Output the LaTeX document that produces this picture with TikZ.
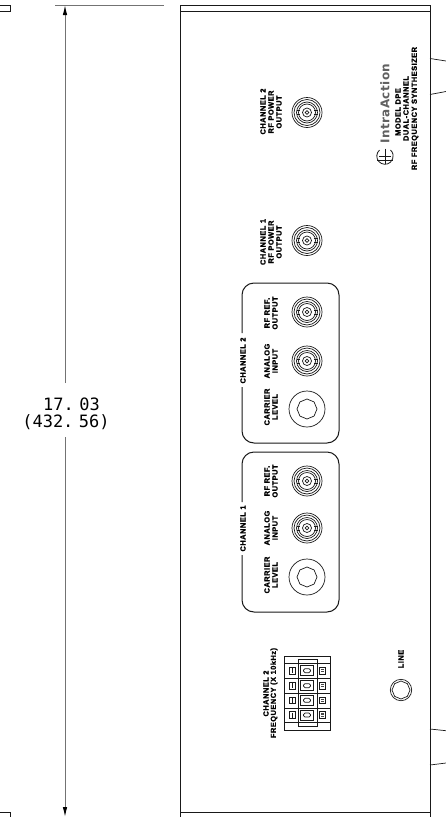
\documentclass[tikz,border=0pt]{standalone}
\usepackage{fontspec}
\setmainfont{Liberation Sans}
\newfontfamily\dimfont{DejaVu Sans Mono}
\newfontfamily\logofont[LetterSpace=3]{DejaVu Sans}
\newfontfamily\lblfont[LetterSpace=7,FakeBold=1.5]{Liberation Sans Bold}
\usetikzlibrary{arrows.meta,shapes.geometric}
\definecolor{ink}{gray}{0.1}
\tikzset{
  panel/.style={draw=ink,line width=1pt},
  thin line/.style={draw=ink,line width=0.7pt},
  dimline/.style={draw=black!55,line width=1pt},
  lbl/.style={rotate=90,inner sep=0,font=\lblfont\fontsize{7.4}{7.4}\selectfont,text=black},
  dimtxt/.style={inner sep=0,font=\dimfont\fontsize{17}{17}\selectfont,text=black},
  logotxt/.style={rotate=90,inner sep=0,font=\logofont\bfseries\fontsize{12}{12}\selectfont,text=black!62},
  hole/.style={regular polygon,regular polygon sides=#1,draw=ink,line width=0.7pt,inner sep=0},
  bnc/.pic={
    \draw[thin line] (0,0) circle (15);
    \draw[thin line] (0,0) circle (13);
    \draw[thin line] (0,0) circle (10.5);
    \draw[thin line] (0,0) circle (8.5);
    \draw[thin line] (0,0) circle (4.5);
    \draw[thin line] (0,0) circle (1.8);
    \draw[thin line] (-10.5,-2) -- (-7,-2) (-10.5,2) -- (-7,2);
    \draw[thin line] (10.5,-2) -- (7,-2) (10.5,2) -- (7,2);
  },
  knob/.pic={
    \draw[thin line] (0,0) circle (18);
    \node[hole=8,minimum size=20pt,rotate=22.5] (-oct) at (0,0) {};
  },
  cell/.pic={
    \draw[thin line,line width=0.9pt] (-18,-3.3) rectangle (-12,3.3);
    \draw[thin line] (-15,-2.5) -- (-15,2.5);
    \draw[thin line,line width=1pt] (-6.5,-5) rectangle (6.5,5);
    \draw[thin line,rounded corners=1.5pt] (-3.5,-2) rectangle (3.5,2);
    \draw[thin line,line width=0.9pt] (12,-3.3) rectangle (18,3.3);
    \fill[ink!80] (13.5,-1.7) rectangle (16.5,-0.5);
    \fill[ink!80] (13.5,0.5) rectangle (16.5,1.7);
  }
}
\begin{document}
\begin{tikzpicture}[x=1pt,y=-1pt]
\useasboundingbox (0,0) rectangle (446,817);
% left fragments
\draw[panel] (0,5) -- (10,5) -- (10,11) -- (0,11);
\draw[panel] (0,812.7) -- (10,812.7) -- (10,817);
% dimension
\coordinate (dtop) at (65,5);
\coordinate (dbot) at (65,817);
\coordinate (ea) at (55,5);
\coordinate (eb) at (164,5);
\coordinate (ga) at (65,383);
\coordinate (gb) at (65,437);
\draw[dimline] (ea) -- (eb);
\draw[dimline,-{Latex[length=10pt,width=4.5pt,black]}] (ga) -- (dtop);
\draw[dimline,-{Latex[length=10pt,width=4.5pt,black]}] (gb) -- (dbot);
\node[dimtxt] (d1) at (71.5,404.5) {17.\hspace{5.5pt}03};
\node[dimtxt] (d2) at (66,422.5) {(432.\hspace{5.5pt}56)};
% panel
\draw[panel] (180,817) -- (180,5) -- (430,5) -- (430,817);
\draw[panel] (180,11) -- (430,11);
\draw[panel] (180,812.7) -- (430,812.7);
\draw[thin line] (430,58.5) -- (446,61);
\draw[thin line] (430,94.5) -- (446,91.5);
\draw[thin line] (430,729) -- (446,730.7);
\draw[thin line] (430,765) -- (446,763);
% channel boxes
\draw[panel,rounded corners=12pt] (242,333) -- (242,283) -- (339,283) -- (339,443) -- (242,443) -- (242,387);
\draw[panel,rounded corners=12pt] (242,502) -- (242,452) -- (339,452) -- (339,612) -- (242,612) -- (242,555);
% connectors
\pic at (307,112.5) {bnc};
\pic at (307,240.5) {bnc};
\pic at (307,312) {bnc};
\pic at (307,361) {bnc};
\pic at (307,481) {bnc};
\pic at (307,528) {bnc};
\pic (ka) at (307,409) {knob};
\pic (kb) at (307,577) {knob};
% line switch
\draw[thin line] (401,690) circle (10.7);
\node[hole=8,minimum size=18pt,rotate=22.5] (linehole) at (401,690) {};
% terminal block
\draw[panel] (284,656) rectangle (330,730);
\foreach \yy in {663,678,693,708,722.7} \draw[thin line] (284,\yy) -- (330,\yy);
\draw[thin line,line width=0.9pt] (298,659.5) rectangle (317,726.5);
\foreach \yy in {670.7,685.7,700.3,715} \pic at (307,\yy) {cell};
% logo
\draw[thin line,line width=0.8pt] (379.5,150) arc[start angle=228,end angle=-48,radius=8.2];
\draw[thin line] (385,148.5) -- (385,163.5);
\draw[thin line] (379,156) -- (391,156);
\draw[thin line] (377,160.3) -- (393,160.3);
\node[logotxt] (brand) at (385,103.5) {IntraAction};
\node[lbl] (m1) at (398,112) {MODEL DPE};
\node[lbl] (m2) at (406,108.5) {DUAL-CHANNEL};
\node[lbl] (m3) at (415,108.5) {RF FREQUENCY SYNTHESIZER};
% labels
\node[lbl] (o1) at (263,111.5) {CHANNEL 2};
\node[lbl] (o2) at (271,112) {RF POWER};
\node[lbl] (o3) at (279,112) {OUTPUT};
\node[lbl] (p1) at (263,242) {CHANNEL 1};
\node[lbl] (p2) at (271,242) {RF POWER};
\node[lbl] (p3) at (279,242) {OUTPUT};
\node[lbl] (b1) at (243,360.5) {CHANNEL 2};
\node[lbl] (b2) at (267,407) {CARRIER};
\node[lbl] (b3) at (275,407) {LEVEL};
\node[lbl] (b4) at (267,361) {ANALOG};
\node[lbl] (b5) at (275,361) {INPUT};
\node[lbl] (b6) at (267,313) {RF REF.};
\node[lbl] (b7) at (275,313) {OUTPUT};
\node[lbl] (c1) at (243,528.5) {CHANNEL 1};
\node[lbl] (c2) at (267,575) {CARRIER};
\node[lbl] (c3) at (275,575) {LEVEL};
\node[lbl] (c4) at (267,528) {ANALOG};
\node[lbl] (c5) at (275,528) {INPUT};
\node[lbl] (c6) at (267,481) {RF REF.};
\node[lbl] (c7) at (275,481) {OUTPUT};
\node[lbl] (f1) at (266,693.5) {CHANNEL 2};
\node[lbl] (f2) at (274,693) {FREQUENCY (X 10kHz)};
\node[lbl] (l1) at (401,659) {LINE};
\end{tikzpicture}
\end{document}
